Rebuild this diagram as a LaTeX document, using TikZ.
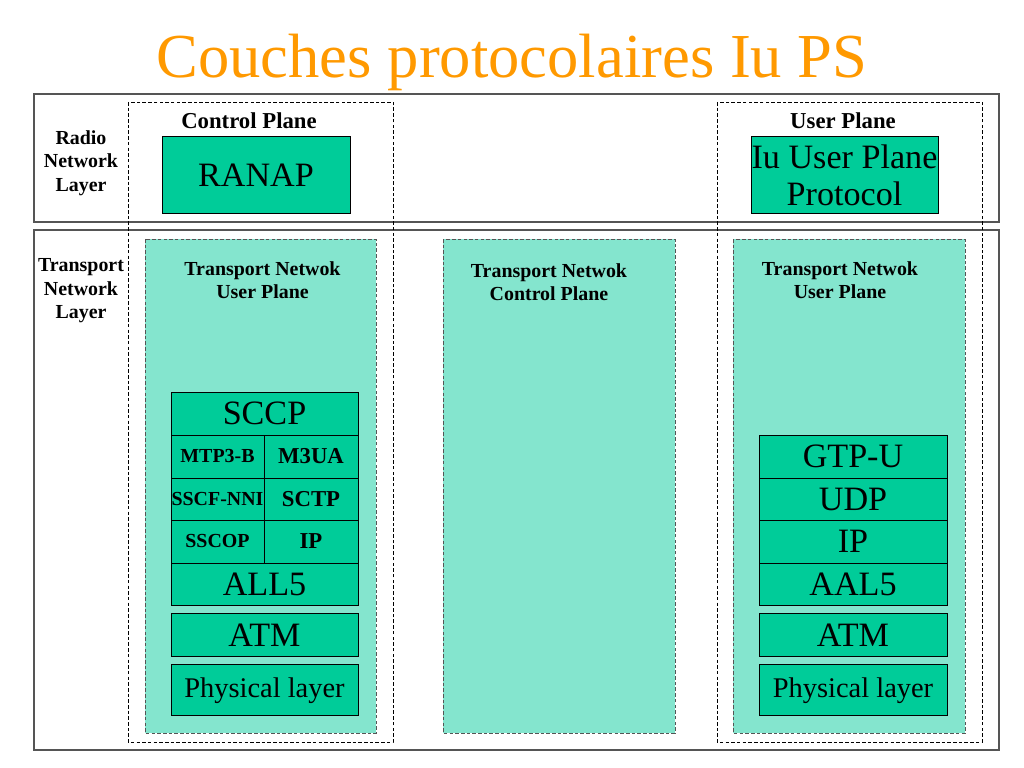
\documentclass[tikz,border=0pt]{standalone}
\usepackage{fontspec}
\setmainfont{Liberation Serif}
\usetikzlibrary{positioning}
\definecolor{CTeal}{HTML}{00CC99}
\definecolor{CTealLight}{HTML}{84E5CE}
\definecolor{COrange}{HTML}{FF9900}
\definecolor{CGrayDark}{HTML}{555555}
\newdimen\px \px=0.703125pt
\newcommand{\layerfont}{\fontsize{24}{26}\selectfont}
\newcommand{\physfont}{\fontsize{20}{22}\selectfont}
\newcommand{\cellfont}{\bfseries\fontsize{14}{16}\selectfont}
\newcommand{\cellfontb}{\bfseries\fontsize{16}{18}\selectfont}
\newcommand{\labelfont}{\bfseries\fontsize{14}{16.5}\selectfont}
\tikzset{
  layerframe/.style={draw=CGrayDark, line width=1pt},
  planeframe/.style={draw=black, line width=0.6pt, dash pattern=on 2.5pt off 1.5pt},
  tnbox/.style={draw=CGrayDark, fill=CTealLight, line width=0.6pt, dash pattern=on 2.5pt off 1.5pt},
  protobox/.style={draw=black, fill=CTeal, line width=0.7pt, inner sep=0pt, outer sep=0pt, align=center},
  boxsize/.style 2 args={minimum width=#1*\px, minimum height=#2*\px},
  sidelabel/.style={font=\labelfont, align=center, inner sep=0pt},
  planelabel/.style={font=\bfseries\fontsize{16}{18}\selectfont, inner sep=0pt, anchor=base}
}

\begin{document}
\begin{tikzpicture}[x=\px, y=-\px]
  \useasboundingbox (0,0) rectangle (1024,768);

  % Title
  \node[font=\fontsize{44}{48}\selectfont, text=COrange, anchor=base, inner sep=0pt] (title) at (512,78) {Couches protocolaires Iu PS};

  % ============================================
  % Layer frames
  % ============================================
  \draw[layerframe] (34,94) rectangle (999,222);
  \draw[layerframe] (34,230) rectangle (999,750);

  % Plane frames (dashed)
  \draw[planeframe] (128,102) rectangle (393,742);
  \draw[planeframe] (717,102) rectangle (982,742);

  % Transport network boxes
  \draw[tnbox] (145,239) rectangle (376,733);
  \draw[tnbox] (443,239) rectangle (675,733);
  \draw[tnbox] (733,239) rectangle (965,733);

  % Side labels
  \node[sidelabel] (rnl) at (81,163) {Radio\\Network\\Layer};
  \node[sidelabel] (tnl) at (81,291) {Transport\\Network\\Layer};

  % Plane labels
  \node[planelabel] (cpl) at (249,129) {Control Plane};
  \node[planelabel] (upl) at (843,129) {User Plane};

  \node[sidelabel] (tnul) at (262.5,280) {Transport Netwok\\User Plane};
  \node[sidelabel] (tncp) at (549,282) {Transport Netwok\\Control Plane};
  \node[sidelabel] (tnur) at (840,280) {Transport Netwok\\User Plane};

  % === Radio network layer protocols ===
  \node[protobox, boxsize={188}{76}, font=\layerfont] (ranap) at (256,175) {RANAP};
  \node[protobox, boxsize={187}{76}, font=\layerfont] (iuup) at (844.5,175) {Iu User Plane\\Protocol};

  % === Control plane stack ===
  \node[protobox, boxsize={187}{43}, font=\layerfont] (sccp) at (264.5,413.5) {SCCP};
  \node[protobox, boxsize={93}{43}, font=\cellfont, anchor=north west] (mtp) at (sccp.south west) {MTP3-B};
  \node[protobox, boxsize={94}{43}, font=\cellfontb, anchor=north west] (m3ua) at (mtp.north east) {M3UA};
  \node[protobox, boxsize={93}{42}, font=\cellfont, anchor=north west] (sscf) at (mtp.south west) {SSCF-NNI};
  \node[protobox, boxsize={94}{42}, font=\cellfontb, anchor=north west] (sctp) at (sscf.north east) {SCTP};
  \node[protobox, boxsize={93}{43}, font=\cellfont, anchor=north west] (sscop) at (sscf.south west) {SSCOP};
  \node[protobox, boxsize={94}{43}, font=\cellfontb, anchor=north west] (ipl) at (sscop.north east) {IP};
  \node[protobox, boxsize={187}{42}, font=\layerfont, anchor=north west] (all5) at (sscop.south west) {ALL5};
  \node[protobox, boxsize={187}{43}, font=\layerfont, below=6.3pt of all5] (atml) {ATM};
  \node[protobox, boxsize={187}{51}, font=\physfont, below=5.6pt of atml] (phyl) {Physical layer};

  % === User plane stack ===
  \node[protobox, boxsize={188}{43}, font=\layerfont] (gtpu) at (853,456.5) {GTP-U};
  \node[protobox, boxsize={188}{42}, font=\layerfont, below=0pt of gtpu] (udp) {UDP};
  \node[protobox, boxsize={188}{43}, font=\layerfont, below=0pt of udp] (ipr) {IP};
  \node[protobox, boxsize={188}{42}, font=\layerfont, below=0pt of ipr] (aal5) {AAL5};
  \node[protobox, boxsize={188}{43}, font=\layerfont, below=6.3pt of aal5] (atmr) {ATM};
  \node[protobox, boxsize={188}{51}, font=\physfont, below=5.6pt of atmr] (phyr) {Physical layer};

\end{tikzpicture}
\end{document}
